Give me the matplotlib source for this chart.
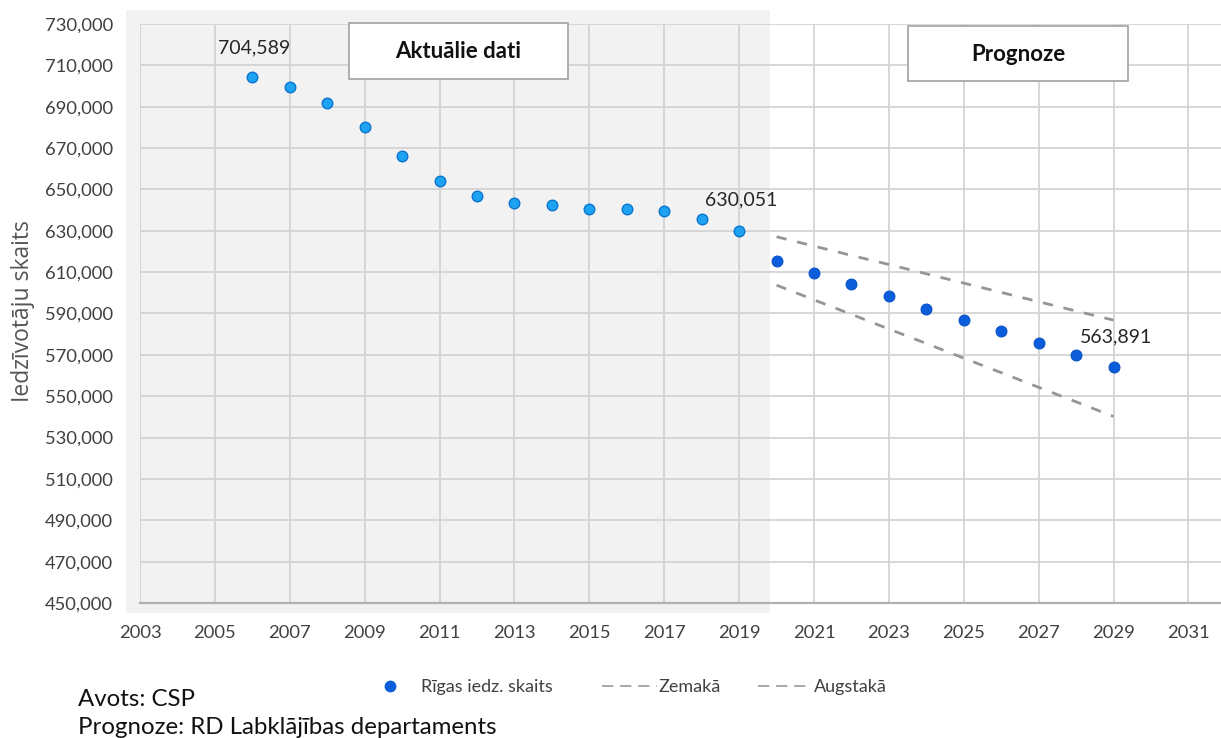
import matplotlib
matplotlib.use("Agg")
import matplotlib.pyplot as plt
from matplotlib.patches import Rectangle
from matplotlib.lines import Line2D
from matplotlib.ticker import FuncFormatter, FixedLocator

# ---- data ----
years_hist = [2006, 2007, 2008, 2009, 2010, 2011, 2012, 2013, 2014, 2015, 2016, 2017, 2018, 2019]
pop_hist = [704589, 699400, 691800, 680100, 666100, 654300, 646600, 643200, 642500, 640400,
            640400, 639700, 635700, 630051]
years_fc = [2020, 2021, 2022, 2023, 2024, 2025, 2026, 2027, 2028, 2029]
pop_fc = [615300, 609800, 604300, 598600, 592400, 586900, 581300, 575700, 570000, 563891]
pop_low = [603700, 596600, 589600, 582500, 575500, 568400, 561400, 554300, 547300, 540200]
pop_high = [627100, 622600, 618100, 613700, 609200, 604700, 600200, 595700, 591200, 586800]
x_ticks = [2003, 2005, 2007, 2009, 2011, 2013, 2015, 2017, 2019, 2021, 2023, 2025, 2027, 2029, 2031]
y_ticks = [450000, 470000, 490000, 510000, 530000, 550000, 570000, 590000, 610000, 630000,
           650000, 670000, 690000, 710000, 730000]
labels_series = ["Rīgas iedz. skaits", "Zemakā", "Augstakā"]
box_labels = ["Aktuālie dati", "Prognoze"]
source_lines = ["Avots: CSP", "Prognoze: RD Labklājības departaments"]
ylabel = "Iedzīvotāju skaits"

W, H = 1221, 738
fig = plt.figure(figsize=(W / 100, H / 100), dpi=100)
fig.patch.set_facecolor("white")

def fx(px):
    return px / W

def fy(py):
    return 1 - py / H

NUM_FONT = ["Lato", "DejaVu Sans"]
TXT_FONT = ["Lato", "DejaVu Sans"]

# gray "actual data" background
fig.add_artist(Rectangle((fx(126), fy(613)), fx(770) - fx(126), fy(10) - fy(613),
                         transform=fig.transFigure, facecolor="#f2f2f2",
                         edgecolor="none", zorder=0))

ax = fig.add_axes([fx(140), fy(603), fx(1221) - fx(140), fy(24) - fy(603)])
ax.set_facecolor("none")
ax.set_zorder(1)

ax.set_xlim(2003, 2031.87)
ax.set_ylim(450000, 730000)
ax.xaxis.set_major_locator(FixedLocator(x_ticks))
ax.yaxis.set_major_locator(FixedLocator(y_ticks))
ax.yaxis.set_major_formatter(FuncFormatter(lambda v, p: f"{int(v):,}"))
ax.xaxis.set_major_formatter(FuncFormatter(lambda v, p: f"{int(v)}"))
ax.grid(True, color="#d4d4d4", linewidth=1.3, zorder=0)
ax.set_axisbelow(True)
for s in ["left", "right", "top"]:
    ax.spines[s].set_visible(False)
ax.spines["bottom"].set_color("#b0b0b0")
ax.spines["bottom"].set_linewidth(1.6)
ax.tick_params(axis="both", length=0, colors="#404040")
ax.tick_params(axis="x", pad=16)
ax.tick_params(axis="y", pad=19.5)
for lab in ax.get_xticklabels() + ax.get_yticklabels():
    lab.set_family(NUM_FONT)
    lab.set_fontsize(13.2)
    lab.set_color("#404040")

fig.text(fx(23), fy(311), ylabel, rotation=90, ha="center", va="center", fontsize=16.5,
         family=["Open Sans", "DejaVu Sans"], color="#555555")

# series
line_low, = ax.plot(years_fc, pop_low, linestyle=(0, (3.7, 3.9)), color="#959595",
                    linewidth=2, zorder=3)
line_high, = ax.plot(years_fc, pop_high, linestyle=(0, (3.7, 3.9)), color="#959595",
                     linewidth=2, zorder=3)
ax.plot(years_hist, pop_hist, linestyle="none", marker="o", markersize=7.6,
        markerfacecolor="#1ea3f2", markeredgecolor="#0a74d0", markeredgewidth=1.0, zorder=4)
ax.plot(years_fc, pop_fc, linestyle="none", marker="o", markersize=7.8,
        markerfacecolor="#0b5ddc", markeredgecolor="#0a52c8", markeredgewidth=0.8, zorder=4)

# value annotations
for x, y, dx, dy in [(years_hist[0], pop_hist[0], 2, 29),
                     (years_hist[-1], pop_hist[-1], 2, 31),
                     (years_fc[-1], pop_fc[-1], 3, 31)]:
    ax.annotate(f"{y:,}", xy=(x, y), xytext=(dx, dy), textcoords="offset pixels",
                ha="center", va="center", fontsize=14, family=NUM_FONT, color="#262626",
                zorder=5)

# text boxes
for (x0, y0, x1, y1), txt in zip([(349, 23, 568, 79), (908, 26, 1128, 81)], box_labels):
    fig.add_artist(Rectangle((fx(x0), fy(y1)), fx(x1) - fx(x0), fy(y0) - fy(y1),
                             transform=fig.transFigure, facecolor="white",
                             edgecolor="#a8a8a8", linewidth=1.3, zorder=5))
    fig.text(fx((x0 + x1) / 2), fy((y0 + y1) / 2 + 1), txt, ha="center", va="center",
             fontsize=16, fontweight="bold", family=TXT_FONT, color="#111111", zorder=6)

# legend (laid out entry by entry)
LEG_Y = 686
legend_specs = [
    # (label, key kind, key start px, key end px, text start px)
    (labels_series[0], "marker", 390, 390, 421),
    (labels_series[1], "dash", 602, 657, 658),
    (labels_series[2], "dash", 758, 812, 814),
]
for label, kind, k0, k1, t0 in legend_specs:
    if kind == "marker":
        fig.add_artist(Line2D([fx(k0)], [fy(LEG_Y)], transform=fig.transFigure,
                              linestyle="none", marker="o", markersize=7.5,
                              markerfacecolor="#0b5ddc", markeredgecolor="#0b5ddc"))
    else:
        fig.add_artist(Line2D([fx(k0), fx(k1)], [fy(LEG_Y), fy(LEG_Y)],
                              transform=fig.transFigure, linestyle=(0, (5.8, 3.5)),
                              color="#a8a8a8", linewidth=1.4))
    fig.text(fx(t0), fy(LEG_Y + 1), label, ha="left", va="center", fontsize=13,
             family=TXT_FONT, color="#404040")

# source notes
fig.text(fx(78), fy(699), source_lines[0], ha="left", va="center", fontsize=17.3,
         family=TXT_FONT, color="#111111")
fig.text(fx(78), fy(728), source_lines[1], ha="left", va="center", fontsize=17.3,
         family=TXT_FONT, color="#111111")

fig.savefig("out.png", dpi=100, facecolor="white")
